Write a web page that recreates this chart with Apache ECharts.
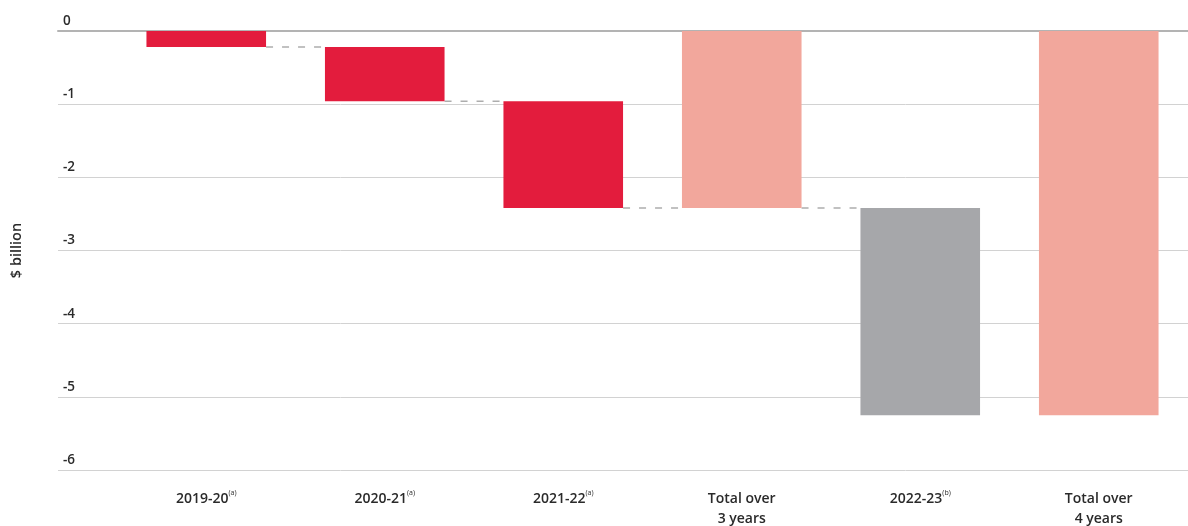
<!DOCTYPE html>
<html>
<head>
<meta charset="utf-8">
<script src="https://cdn.jsdelivr.net/npm/echarts@6/dist/echarts.min.js"></script>
<style>html,body{margin:0;padding:0;background:#fff}#c{width:1188px;height:526px}</style>
</head>
<body>
<div id="c"></div>
<script>
const categories = ['2019-20', '2020-21', '2021-22', 'Total over\n3 years', '2022-23', 'Total over\n4 years'];
const superscripts = ['(a)', '(a)', '(a)', '', '(b)', ''];
const barStart = [0, -0.22, -0.96, 0, -2.42, 0];
const barEnd = [-0.22, -0.96, -2.42, -2.42, -5.25, -5.25];
const barKind = ['year', 'year', 'year', 'total', 'forecast', 'total'];
const connectorLevels = [-0.22, -0.96, -2.42, -2.42];
const yTicks = [0, -1, -2, -3, -4, -5, -6];

const kindColor = { year: '#E31C3D', total: '#F2A79C', forecast: '#A6A7AA' };
const FONT = '"Open Sans", sans-serif';

const chart = echarts.init(document.getElementById('c'), null, { renderer: 'canvas' });

const barData = categories.map((c, i) => [i, barStart[i], barEnd[i]]);
const connData = connectorLevels.map((v, i) => [i, v]);

const option = {
  animation: false,
  grid: [
    { left: 117, width: 1075, top: 31, bottom: 56 },
    { left: 58, right: 0, top: 31, bottom: 56 }
  ],
  xAxis: [
    {
      gridIndex: 0, type: 'category', data: categories,
      axisLine: { show: false }, axisTick: { show: false },
      axisLabel: {
        margin: 19, interval: 0,
        formatter: function (v, i) {
          const lines = v.split('\n').map(l => '{b|' + l + '}');
          if (superscripts[i]) lines[0] += '{s|' + superscripts[i] + '}';
          return lines.join('\n');
        },
        rich: {
          b: { fontFamily: FONT, fontSize: 14, fontWeight: 600, color: '#2a2a2a', lineHeight: 20 },
          s: { fontFamily: FONT, fontSize: 7, color: '#2a2a2a', verticalAlign: 'top', lineHeight: 20, padding: [0, 0, 6, 0] }
        }
      }
    },
    {
      gridIndex: 1, type: 'value', min: 0, max: 1,
      axisLine: { show: true, onZero: true, lineStyle: { color: '#b3b3b3', width: 2 } },
      axisTick: { show: false }, axisLabel: { show: false }, splitLine: { show: false }
    }
  ],
  yAxis: [
    { gridIndex: 0, type: 'value', min: -6, max: 0, interval: 1, show: false },
    {
      gridIndex: 1, type: 'value', min: -6, max: 0, interval: 1,
      name: '$ billion', nameLocation: 'middle', nameGap: 34, nameRotate: 90,
      nameTextStyle: { fontFamily: FONT, fontSize: 14.5, fontWeight: 600, color: '#2a2a2a' },
      axisLine: { show: false }, axisTick: { show: false },
      axisLabel: {
        inside: true, margin: 5, verticalAlign: 'bottom', padding: [0, 0, 3, 0],
        fontFamily: FONT, fontSize: 13.5, fontWeight: 600, color: '#2a2a2a',
        formatter: v => yTicks.includes(v) ? String(v) : ''
      },
      splitLine: { show: true, lineStyle: { color: '#d2d2d2', width: 1 } }
    }
  ],
  series: [
    {
      type: 'custom', xAxisIndex: 0, yAxisIndex: 0, data: barData, z: 3,
      renderItem: function (params, api) {
        const i = api.value(0);
        const p0 = api.coord([i, api.value(1)]);
        const p1 = api.coord([i, api.value(2)]);
        const w = api.size([1, 0])[0] * 0.67;
        return {
          type: 'rect',
          shape: { x: p0[0] - w / 2, y: Math.min(p0[1], p1[1]), width: w, height: Math.abs(p1[1] - p0[1]) },
          style: { fill: kindColor[barKind[i]] }
        };
      }
    },
    {
      type: 'custom', xAxisIndex: 0, yAxisIndex: 0, data: connData, z: 2,
      renderItem: function (params, api) {
        const i = api.value(0);
        const a = api.coord([i, api.value(1)]);
        const b = api.coord([i + 1, api.value(1)]);
        const w = api.size([1, 0])[0] * 0.67;
        return {
          type: 'line',
          shape: { x1: a[0] + w / 2, y1: a[1], x2: b[0] - w / 2, y2: b[1] },
          style: { stroke: '#adadad', lineWidth: 1.5, lineDash: [7, 9] }
        };
      }
    }
  ]
};
chart.setOption(option);
</script>
</body>
</html>
